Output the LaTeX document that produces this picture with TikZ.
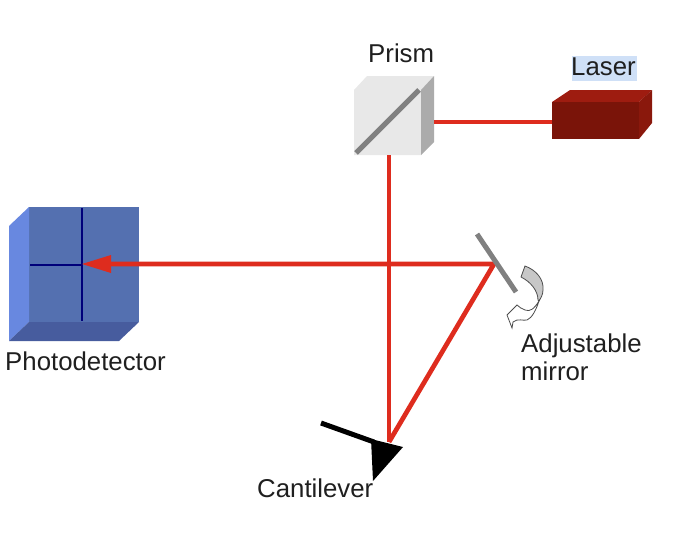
\documentclass[tikz,border=0pt]{standalone}
\usepackage{fontspec}
\setmainfont{Liberation Sans}
\definecolor{beam}{HTML}{DE2C1E}
\definecolor{hilite}{HTML}{CFE0F7}
\definecolor{prismfront}{HTML}{E8E8E8}
\definecolor{prismside}{HTML}{ABABAB}
\definecolor{laserfront}{HTML}{7A1409}
\definecolor{lasertop}{HTML}{9E1C10}
\definecolor{laserside}{HTML}{8A180C}
\definecolor{pdfront}{HTML}{5470B0}
\definecolor{pdleft}{HTML}{6888E0}
\definecolor{pdbottom}{HTML}{475C9E}
\definecolor{pdcross}{HTML}{00007A}
\tikzset{
  x=1pt,y=-1pt,
  lab/.style={font=\fontsize{25.8}{30}\selectfont,text=black!88,inner sep=0pt,anchor=base west,align=left},
  beamline/.style={draw=beam,line width=4.7pt},
  face/.style={draw=none},
  crossline/.style={line width=2.2pt,draw=pdcross},
}
\begin{document}
\begin{tikzpicture}
\useasboundingbox (0,0) rectangle (676,544);
% prism
\fill[face,fill=prismfront] (354,90) -- (367,76) -- (434,76) -- (421,90) -- (421,155) -- (354,155) -- cycle;
\fill[face,fill=prismside] (421,90) -- (434,76) -- (434,142) -- (421,155) -- cycle;
\draw[line width=5pt,draw=black!50] (356,153) -- (419,90);
% laser
\fill[face,fill=lasertop] (552,102) -- (570,90) -- (652,90) -- (639,102) -- cycle;
\fill[face,fill=laserside] (639,102) -- (652,90) -- (652,123) -- (639,139) -- cycle;
\fill[face,fill=laserfront] (552,102) rectangle (639,139);
% detector
\fill[face,fill=pdfront] (29,207) rectangle (139,322);
\fill[face,fill=pdleft] (9,226) -- (29,207) -- (29,322) -- (9,341) -- cycle;
\fill[face,fill=pdbottom] (9,341) -- (29,322) -- (139,322) -- (119,341) -- cycle;
\draw[crossline] (82,208) -- (82,321);
\draw[crossline] (30,265) -- (82,265);
% connector ends
\coordinate (laserport) at (552,122);
\coordinate (prismport) at (434,122);
\coordinate (prismbot) at (389,155);
\coordinate (tip) at (389,442);
\coordinate (mirrorpt) at (494,264);
\coordinate (pdpt) at (82,264);
\draw[beamline] (prismport) -- (laserport);
\draw[beamline] (prismbot) -- (tip);
\draw[beamline,line join=miter] (tip) -- (mirrorpt) -- (105,264);
\fill[beam] (pdpt) -- (111,255) -- (111,273) -- cycle;
% mirror
\draw[line width=5pt,draw=black!50] (477,234) -- (516,292);
% rotation arrow
\filldraw[draw=black!70,line width=.8pt,fill=black!22] (525,266) .. controls (536,270) and (544,279) .. (543,290) .. controls (543,294) and (541,298) .. (539,301) -- (538,300) .. controls (538,291) and (531,282) .. (521,277) -- cycle;
\filldraw[draw=black!70,line width=.8pt,fill=white] (539,301) .. controls (534,309) and (530,312) .. (525,310) .. controls (522,309) and (519,307) .. (517,305) -- (507,315) -- (512,328) -- (513,322) .. controls (518,318) and (523,321) .. (527,320) .. controls (532,318) and (536,310) .. (539,301) -- cycle;
% cantilever
\draw[line width=5pt,draw=black] (321,423) -- (374,442);
\fill[black] (371,439) -- (403,447) -- (373,481) -- cycle;
% labels
\node[lab] (prismlab) at (368,62) {Prism};
\fill[hilite] (572,56) rectangle (637,81);
\node[lab] (laserlab) at (571,75) {Laser};
\node[lab] (pdlab) at (5,370) {Photodetector};
\node[lab] (mirlab) at (521,352) {Adjustable};
\node[lab] (mirlab2) at (521,380) {mirror};
\node[lab] (canlab) at (257,497) {Cantilever};
\end{tikzpicture}
\end{document}
